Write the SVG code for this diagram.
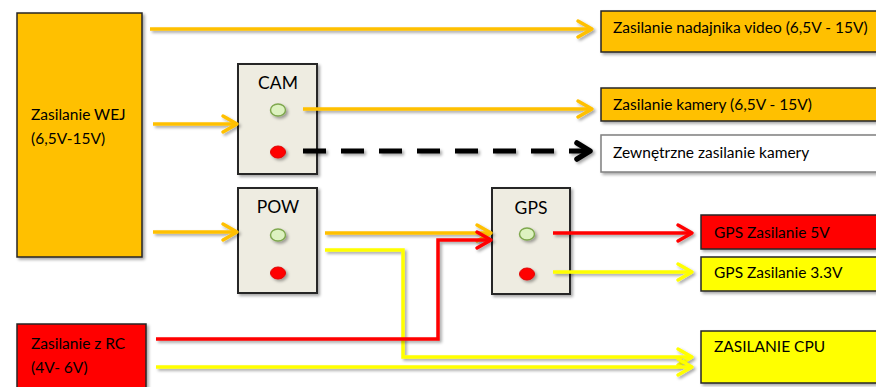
<svg xmlns="http://www.w3.org/2000/svg" width="876" height="387" viewBox="0 0 876 387">
<defs>
<filter id="sh" filterUnits="userSpaceOnUse" x="0" y="0" width="876" height="387">
<feDropShadow dx="2" dy="2" stdDeviation="1.5" flood-color="#000" flood-opacity="0.35"/>
</filter>
<marker id="aO" markerUnits="userSpaceOnUse" markerWidth="20" markerHeight="24" refX="15" refY="10" orient="auto" overflow="visible">
<path d="M1,2 L15,10 L1,18" fill="none" stroke="#FFC000" stroke-width="3.5" stroke-linecap="round" stroke-linejoin="round"/>
</marker>
<marker id="aR" markerUnits="userSpaceOnUse" markerWidth="20" markerHeight="24" refX="15" refY="10" orient="auto" overflow="visible">
<path d="M1,2 L15,10 L1,18" fill="none" stroke="#FF0000" stroke-width="3.5" stroke-linecap="round" stroke-linejoin="round"/>
</marker>
<marker id="aY" markerUnits="userSpaceOnUse" markerWidth="20" markerHeight="24" refX="15" refY="10" orient="auto" overflow="visible">
<path d="M1,2 L15,10 L1,18" fill="none" stroke="#FFFF00" stroke-width="3.5" stroke-linecap="round" stroke-linejoin="round"/>
</marker>
<marker id="aK" markerUnits="userSpaceOnUse" markerWidth="24" markerHeight="24" refX="15" refY="10" orient="auto" overflow="visible">
<path d="M2,2 L15,10 L2,18" fill="none" stroke="#000" stroke-width="5.5" stroke-linecap="round" stroke-linejoin="round"/>
</marker>
</defs>
<style>
text{font-family:Lato,"Liberation Sans",sans-serif;font-size:15.5px;fill:#000}
.box{stroke:#262626;stroke-width:1.5;filter:url(#sh)}
.node{fill:#EEECE1;stroke:#262626;stroke-width:2;filter:url(#sh)}
.ln{fill:none;stroke-width:3.5;filter:url(#sh)}
.o{stroke:#FFC000}.r{stroke:#FF0000}.y{stroke:#FFFF00}
.led-g{fill:#DDF2C0;stroke:#7FA84E;stroke-width:1.5;filter:url(#sh)}
.led-r{fill:#FF0000;stroke:#E00000;stroke-width:1;filter:url(#sh)}
.lbl{font-size:17.5px}
</style>
<g id="wej">
<rect class="box" x="17" y="13" width="125" height="244" fill="#FFC000"/>
<text x="31" y="120">Zasilanie WEJ</text>
<text x="31" y="144">(6,5V-15V)</text>
</g>
<g id="rc">
<rect class="box" x="17" y="324" width="129" height="70" fill="#FF0000"/>
<text x="31" y="349">Zasilanie z RC</text>
<text x="31" y="373">(4V- 6V)</text>
</g>
<g id="cam">
<rect class="node" x="238" y="64" width="79" height="110"/>
<text class="lbl" x="278" y="89" text-anchor="middle">CAM</text>
<ellipse class="led-g" cx="278" cy="110" rx="7.5" ry="6"/>
<ellipse class="led-r" cx="278" cy="152" rx="7.5" ry="6"/>
</g>
<g id="pow">
<rect class="node" x="238" y="188" width="79" height="105"/>
<text class="lbl" x="278" y="213" text-anchor="middle">POW</text>
<ellipse class="led-g" cx="278" cy="235" rx="7.5" ry="6"/>
<ellipse class="led-r" cx="278" cy="273" rx="7.5" ry="6"/>
</g>
<g id="gps">
<rect class="node" x="492" y="188" width="78" height="106"/>
<text class="lbl" x="531" y="214" text-anchor="middle">GPS</text>
<ellipse class="led-g" cx="527" cy="234" rx="7.5" ry="6"/>
<ellipse class="led-r" cx="527" cy="274" rx="7.5" ry="6"/>
</g>
<g id="video">
<rect class="box" x="601" y="11" width="290" height="41" fill="#FFC000"/>
<text x="613" y="33">Zasilanie nadajnika video (6,5V - 15V)</text>
</g>
<g id="kamera">
<rect class="box" x="601" y="88" width="290" height="33" fill="#FFC000"/>
<text x="613" y="110">Zasilanie kamery (6,5V - 15V)</text>
</g>
<g id="zewn">
<rect class="box" x="601" y="135" width="290" height="37" fill="#FFFFFF" style="stroke:#7F7F7F"/>
<text x="613" y="158">Zewnętrzne zasilanie kamery</text>
</g>
<g id="gps5">
<rect class="box" x="701" y="215" width="190" height="34" fill="#FF0000"/>
<text x="714" y="238">GPS Zasilanie 5V</text>
</g>
<g id="gps33">
<rect class="box" x="701" y="257" width="190" height="34" fill="#FFFF00"/>
<text x="714" y="278">GPS Zasilanie 3.3V</text>
</g>
<g id="cpu">
<rect class="box" x="701" y="331" width="190" height="52" fill="#FFFF00"/>
<text x="714" y="352">ZASILANIE CPU</text>
</g>
<g id="connectors">
<line class="ln o" x1="150" y1="29" x2="592" y2="29" marker-end="url(#aO)"/>
<line class="ln o" x1="153" y1="124" x2="237" y2="124" marker-end="url(#aO)"/>
<line class="ln o" x1="303" y1="109" x2="592" y2="109" marker-end="url(#aO)"/>
<line class="ln" stroke="#000" stroke-dasharray="23 15" x1="303" y1="151" x2="590" y2="151" style="stroke-width:5" marker-end="url(#aK)"/>
<line class="ln o" x1="153" y1="232" x2="237" y2="232" marker-end="url(#aO)"/>
<line class="ln o" x1="325" y1="233" x2="491" y2="233" marker-end="url(#aO)"/>
<polyline class="ln y" points="325,250 403,250 403,357 692,357" marker-end="url(#aY)"/>
<polyline class="ln r" points="156,339 438,339 438,240 491,240" marker-end="url(#aR)"/>
<line class="ln y" x1="156" y1="367" x2="692" y2="367" marker-end="url(#aY)"/>
<line class="ln r" x1="553" y1="233" x2="692" y2="233" marker-end="url(#aR)"/>
<line class="ln y" x1="553" y1="272" x2="692" y2="272" marker-end="url(#aY)"/>
</g>
</svg>
